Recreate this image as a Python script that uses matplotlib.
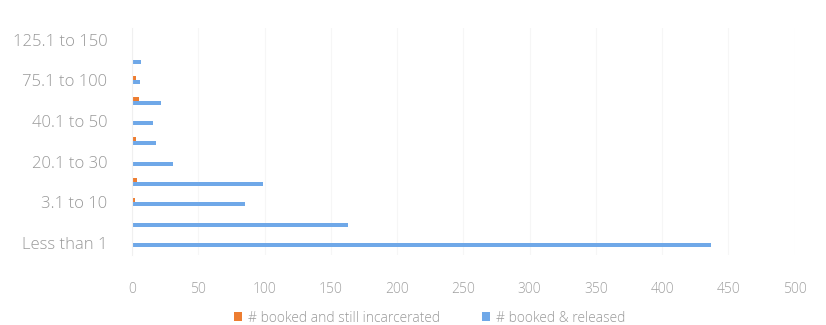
import matplotlib.pyplot as plt
import numpy as np

# bond amount ranges (in thousands), bottom to top
categories = ['Less than 1', '1 to 3', '3.1 to 10', '10.1 to 20', '20.1 to 30',
              '30.1 to 40', '40.1 to 50', '50.1 to 75', '75.1 to 100',
              '100.1 to 125', '125.1 to 150']
released = [437, 163, 85, 99, 31, 18, 16, 22, 6, 7, 1]
incarcerated = [0, 1, 2, 4, 1, 3, 0, 5, 3, 1, 0]
x_ticks = [0, 50, 100, 150, 200, 250, 300, 350, 400, 450, 500]

plt.rcParams['font.family'] = ['Open Sans', 'DejaVu Sans']
plt.rcParams['font.weight'] = 'light'

fig = plt.figure(figsize=(8.26, 3.25), dpi=100)
ax = fig.add_axes([0.16, 0.215, 0.802, 0.70])

y = np.arange(len(categories))
h = 0.2
ax.barh(y + h / 2, incarcerated, height=h, color='#ED7D31',
        label='# booked and still incarcerated')
ax.barh(y - h / 2, released, height=h, color='#6fa8e8',
        label='# booked & released')

ax.set_xlim(0, 500)
ax.set_ylim(-0.6, len(categories) - 0.4)
ax.set_xticks(x_ticks)
ax.set_yticks(y[::2])
ax.set_yticklabels(categories[::2])

ax.tick_params(axis='x', length=0, colors='#a0a0a0', labelsize=10, pad=19)
ax.tick_params(axis='y', length=0, colors='#999999', labelsize=12, pad=18)
ax.xaxis.grid(True, color='#f6f6f6', linewidth=0.8)
ax.set_axisbelow(True)
for s in ['top', 'right', 'bottom']:
    ax.spines[s].set_visible(False)
ax.spines['left'].set_color('#f0f0f0')

leg = fig.legend(loc='lower center', ncol=2, frameon=False, fontsize=10,
                 handlelength=0.6, handleheight=0.6, columnspacing=3,
                 handletextpad=0.4, bbox_to_anchor=(0.52, -0.04))
for t in leg.get_texts():
    t.set_color('#999999')

fig.savefig('out.png', dpi=100, facecolor='white')
